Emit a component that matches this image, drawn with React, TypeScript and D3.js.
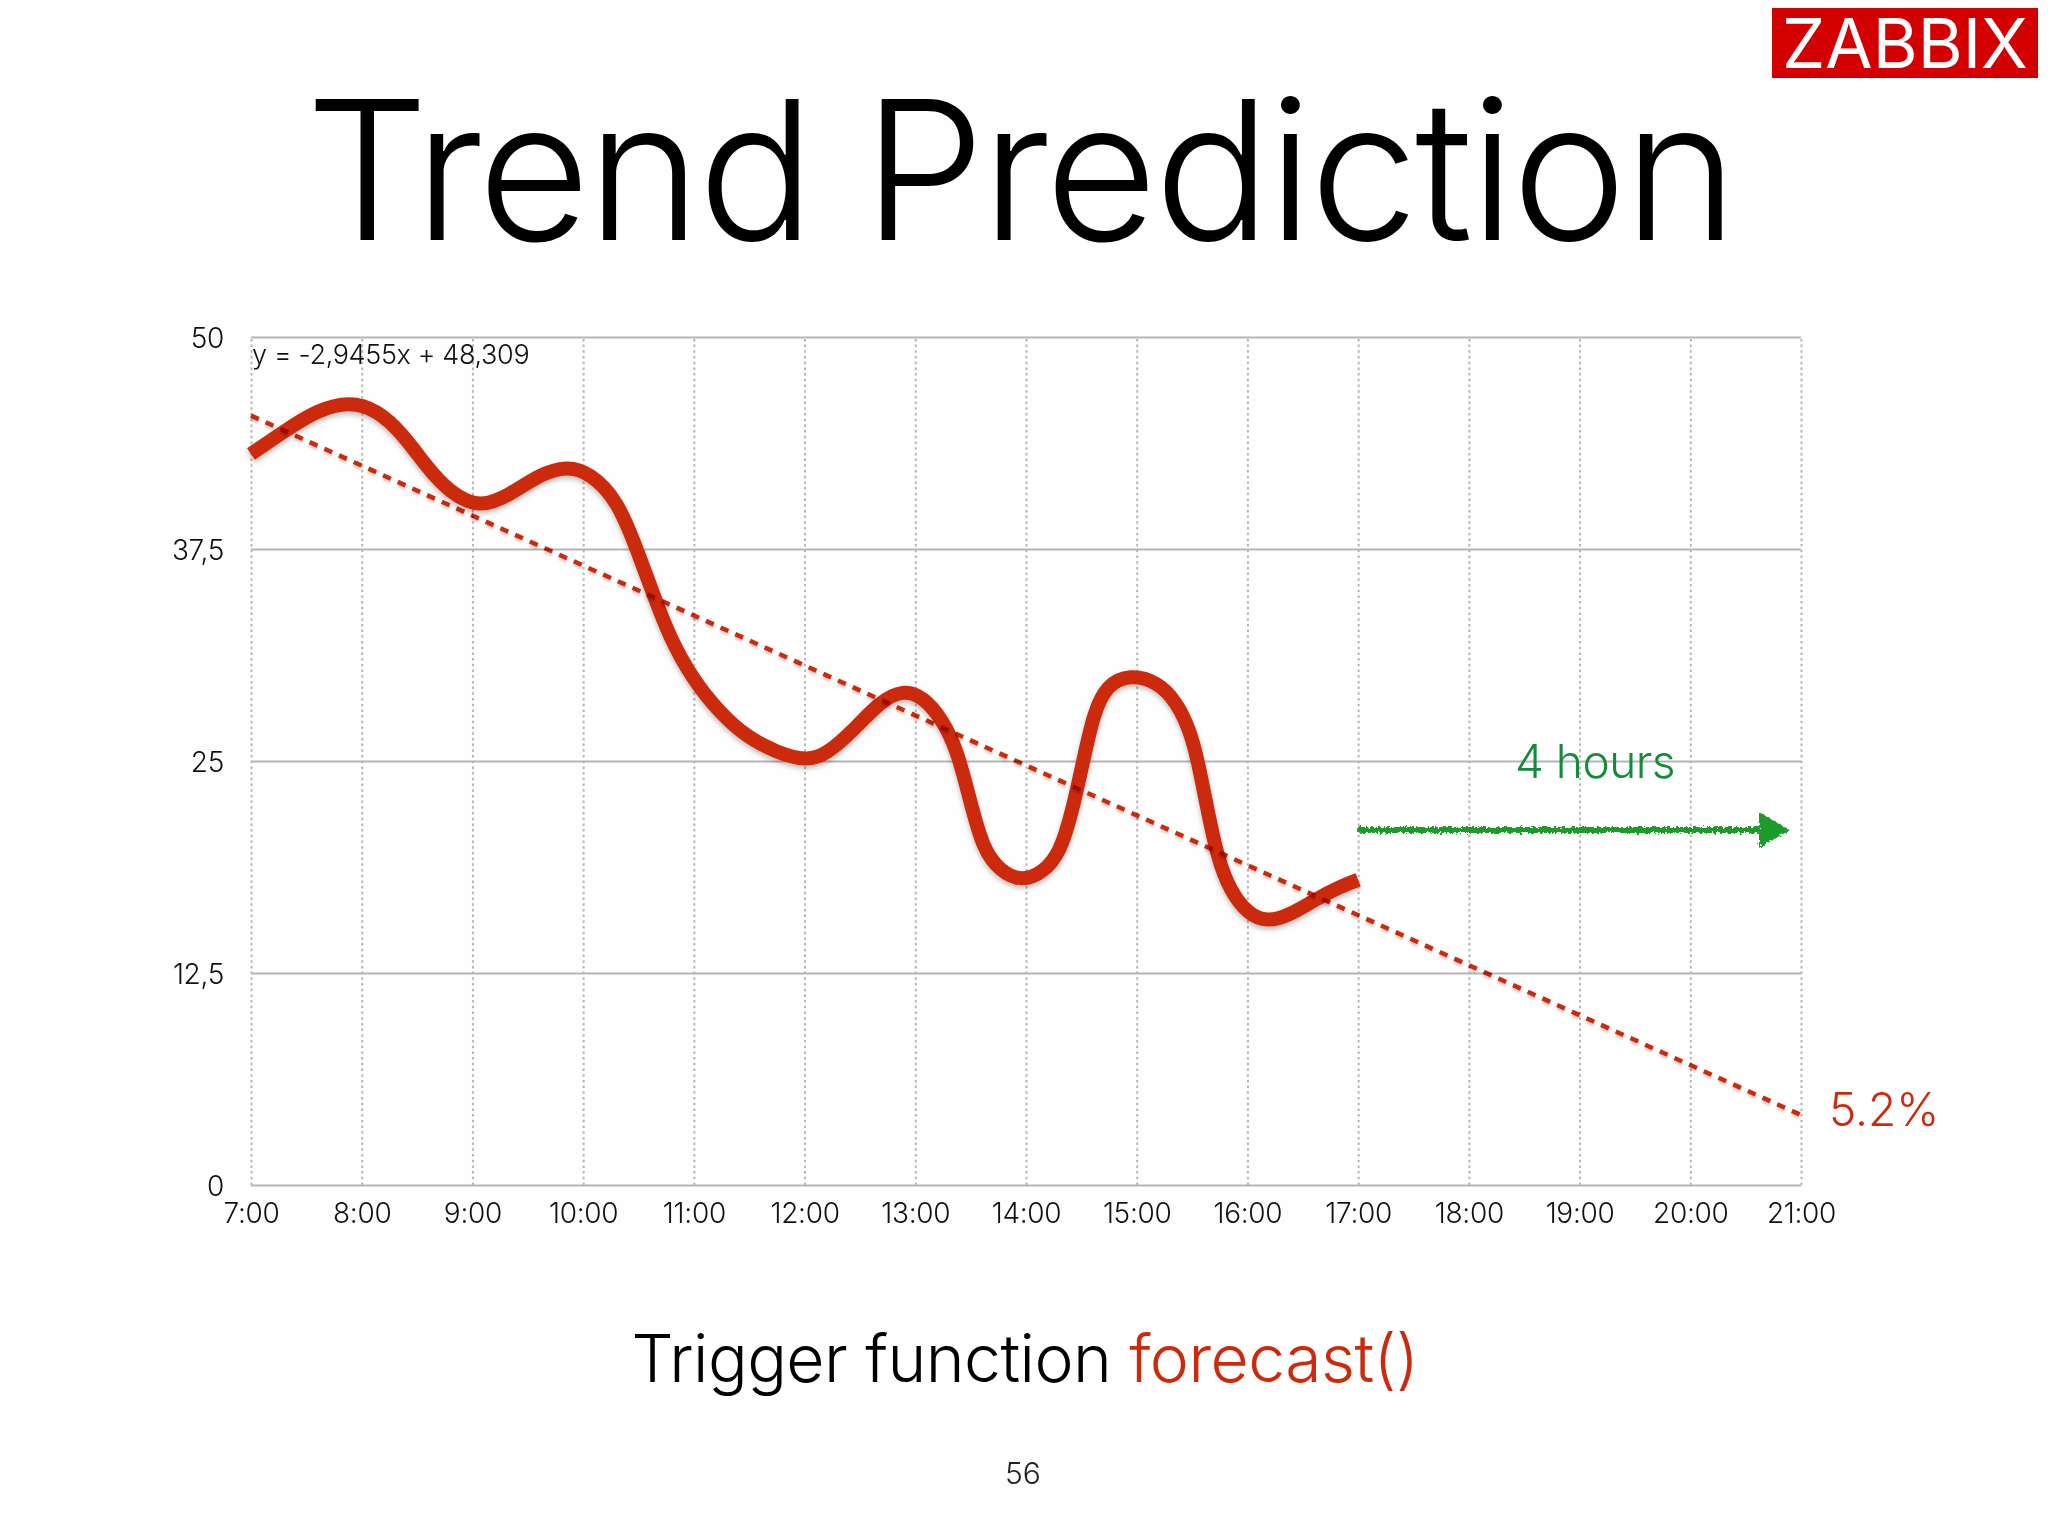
import { useRef, useEffect } from 'react';
import * as d3 from 'd3';

const hourTicks = [7, 8, 9, 10, 11, 12, 13, 14, 15, 16, 17, 18, 19, 20, 21];
const valueTicks = [0, 12.5, 25, 37.5, 50];

const hours = [
  7.0, 7.29, 7.6, 7.89, 8.14, 8.37, 8.59, 8.8, 9.07, 9.34, 9.61, 9.85, 10.06, 10.31, 10.49, 10.63, 10.78, 10.99,
  11.24, 11.48, 11.75, 12.02, 12.2, 12.44, 12.68, 12.89, 13.07, 13.25, 13.38, 13.49, 13.61, 13.77, 13.96, 14.15,
  14.31, 14.42, 14.52, 14.61, 14.73, 14.94, 15.18, 15.36, 15.48, 15.55, 15.64, 15.73, 15.84, 16.0, 16.18, 16.38,
  16.63, 16.84, 17.0,
];
const values = [
  43.1, 44.4, 45.7, 46.2, 45.7, 44.3, 42.3, 40.8, 39.9, 40.7, 41.9, 42.4, 42.0, 40.4, 37.4, 34.9, 32.3, 29.8,
  27.8, 26.4, 25.5, 25.0, 25.4, 26.8, 28.5, 29.2, 28.8, 27.4, 25.6, 22.8, 19.8, 18.5, 17.9, 18.4,
  19.6, 22.1, 25.1, 27.8, 29.5, 30.1, 29.7, 28.5, 26.8, 25.1, 22.1, 19.3, 17.4, 16.0, 15.5, 15.9,
  16.9, 17.6, 18.0,
];

// trend line equation printed on the chart, x counts hours from 1
const trendSlope = -2.9455;
const trendIntercept = 48.309;
const trendHours = [7, 21];

const arrowHours = [17, 20.62];
const arrowTip = 20.9;
const arrowValue = 20.93;

const FONT = 'Inter, "Liberation Sans", sans-serif';
const RED = '#cc2a0c';
const GRID = '#b6b4b6';

const Chart = () => {
  const svgRef = useRef<SVGSVGElement>(null);

  useEffect(() => {
    const svg = d3.select(svgRef.current);
    svg.selectAll('*').remove();

    const xScale = d3.scaleLinear().domain([7, 21]).range([251, 1801]);
    const yScale = d3.scaleLinear().domain([0, 50]).range([1185, 337]);
    const plotW = 1550;
    const plotH = 848;

    const defs = svg.append('defs');
    const addShadow = (id: string, dy: number, blur: number, alpha: number) =>
      defs.append('filter').attr('id', id)
        .attr('filterUnits', 'userSpaceOnUse')
        .attr('x', 0).attr('y', 0).attr('width', 2048).attr('height', 1536)
        .append('feDropShadow')
        .attr('dx', 0).attr('dy', dy).attr('stdDeviation', blur)
        .attr('flood-color', '#000').attr('flood-opacity', alpha);
    addShadow('shadow', 3, 2.5, 0.25);
    addShadow('shadowThin', 2.5, 1.2, 0.2);

    const chalk = defs.append('filter').attr('id', 'chalk')
      .attr('filterUnits', 'userSpaceOnUse')
      .attr('x', 1340).attr('y', 790).attr('width', 470).attr('height', 80);
    chalk.append('feTurbulence')
      .attr('type', 'fractalNoise').attr('baseFrequency', 0.35).attr('numOctaves', 2).attr('seed', 4).attr('result', 'n');
    chalk.append('feDisplacementMap')
      .attr('in', 'SourceGraphic').attr('in2', 'n').attr('scale', 7);

    svg.append('rect').attr('width', 2048).attr('height', 1536).attr('fill', '#fefefe');

    // axes double as the grid
    const xAxis = svg.append('g')
      .attr('transform', 'translate(0,1185)')
      .call(d3.axisBottom(xScale)
        .tickValues(hourTicks)
        .tickFormat(d => `${d}:00`)
        .tickSizeInner(-plotH)
        .tickSizeOuter(0)
        .tickPadding(18));
    xAxis.select('.domain').remove();
    xAxis.selectAll('line')
      .attr('stroke', GRID).attr('stroke-width', 2).attr('stroke-dasharray', '2.5 3.2');

    const yAxis = svg.append('g')
      .attr('transform', 'translate(251,0)')
      .call(d3.axisLeft(yScale)
        .tickValues(valueTicks)
        .tickFormat(d => String(d).replace('.', ','))
        .tickSizeInner(-plotW)
        .tickSizeOuter(0)
        .tickPadding(27));
    yAxis.select('.domain').remove();
    yAxis.selectAll('line').attr('stroke', GRID).attr('stroke-width', 2);
    yAxis.selectAll('text').attr('dy', '0.39em');

    svg.selectAll('.tick text')
      .attr('font-family', FONT).attr('font-weight', 300).attr('font-size', 28)
      .attr('letter-spacing', -0.3).attr('fill', '#111');

    const line = d3.line<number>()
      .x((_, i) => xScale(hours[i]))
      .y(d => yScale(d))
      .curve(d3.curveBasis);

    svg.append('path')
      .attr('d', line(values))
      .attr('fill', 'none')
      .attr('stroke', RED)
      .attr('stroke-width', 14)
      .attr('filter', 'url(#shadow)');

    const trendLine = d3.line<number>()
      .x(d => xScale(d))
      .y(d => yScale(trendSlope * (d - 6) + trendIntercept));

    svg.append('path')
      .attr('d', trendLine(trendHours))
      .attr('fill', 'none')
      .attr('stroke', RED)
      .attr('stroke-width', 4.5)
      .attr('stroke-dasharray', '8.5 7.6')
      .attr('filter', 'url(#shadowThin)')
      .style('mix-blend-mode', 'multiply');

    // hand drawn looking arrow
    const arrow = svg.append('g').attr('filter', 'url(#chalk)');
    arrow.append('line')
      .attr('x1', xScale(arrowHours[0])).attr('x2', xScale(arrowHours[1]))
      .attr('y1', yScale(arrowValue)).attr('y2', yScale(arrowValue))
      .attr('stroke', '#1f9a2b').attr('stroke-width', 6);
    const headX = xScale(arrowHours[1]);
    const headY = yScale(arrowValue);
    arrow.append('polygon')
      .attr('points', `${headX},${headY - 18} ${xScale(arrowTip)},${headY} ${headX},${headY + 18}`)
      .attr('fill', '#1f9a2b');

    const label = (txt: string, x: number, y: number, size: number, fill: string, anchor = 'start', spacing = 0) =>
      svg.append('text')
        .attr('x', x).attr('y', y)
        .attr('font-family', FONT).attr('font-weight', 300)
        .attr('font-size', size).attr('fill', fill).attr('text-anchor', anchor)
        .attr('letter-spacing', spacing)
        .text(txt);

    label('Trend Prediction', 1020, 240, 194, '#000', 'middle', -3.2);
    label('y = -2,9455x + 48,309', 252, 364, 27, '#111', 'start', -0.35);
    label('4 hours', 1515, 778, 46, '#128c38', 'start', -0.5);
    label('5.2%', 1829, 1126, 46, RED);
    label('56', 1023, 1484, 30, '#222', 'middle');

    const caption = label('Trigger function ', 1025, 1382, 66, '#000', 'middle', -0.55);
    caption.append('tspan').attr('fill', RED).text('forecast()');

    svg.append('rect').attr('x', 1772).attr('y', 8).attr('width', 266).attr('height', 70).attr('fill', '#d40000');
    label('ZABBIX', 1782, 68, 69, '#fff').attr('font-weight', 400).attr('textLength', 246).attr('lengthAdjust', 'spacingAndGlyphs');
  }, []);

  return <svg ref={svgRef} width={2048} height={1536} style={{ position: 'absolute', left: 0, top: 0 }} />;
};

export default function App() {
  return <Chart />;
}
